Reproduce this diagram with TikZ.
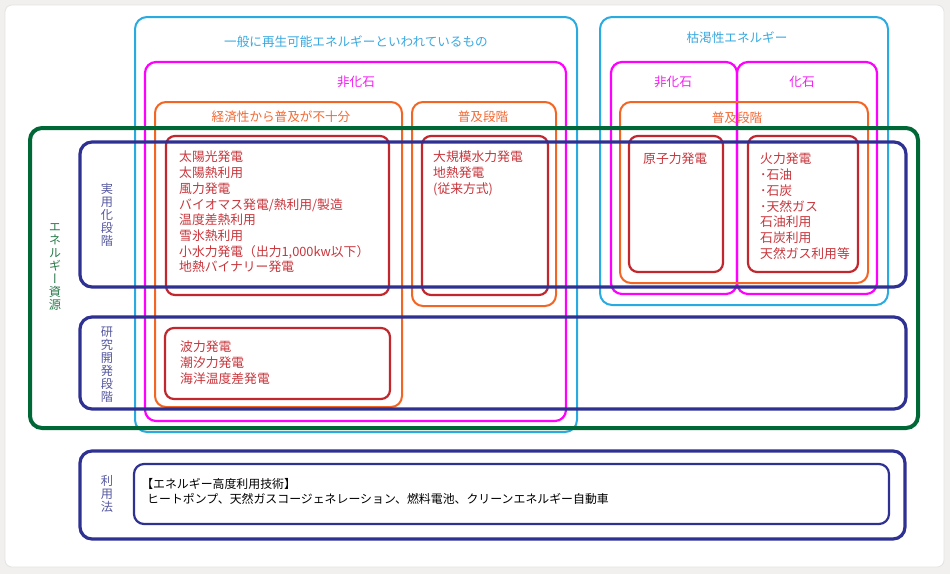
\documentclass[tikz,border=0pt]{standalone}
\usepackage{fontspec}
\setmainfont{Noto Sans CJK JP}
\newfontfamily\vfont[RawFeature=+vert]{Noto Sans CJK JP}
\definecolor{cbg}{HTML}{F1F0EE}
\definecolor{cpanel}{HTML}{E4E3E1}
\definecolor{cblue}{HTML}{29ABE2}
\definecolor{cmag}{HTML}{FF00FF}
\definecolor{corange}{HTML}{F26522}
\definecolor{cred}{HTML}{C1272D}
\definecolor{cgreen}{HTML}{006837}
\definecolor{cnavy}{HTML}{2E3192}
\definecolor{tblue}{HTML}{3AA9DF}
\definecolor{tmag}{HTML}{F21EF2}
\definecolor{tor}{HTML}{F26A35}
\definecolor{tred}{HTML}{C8363C}
\definecolor{tnavy}{HTML}{55589F}
\definecolor{tgreen}{HTML}{2B7A4B}
\begin{document}
\begin{tikzpicture}[x=1pt,y=-1pt,
  bluebox/.style={draw=cblue,line width=2pt,rounded corners=12pt},
  magbox/.style={draw=cmag,line width=2.2pt,rounded corners=11pt},
  orbox/.style={draw=corange,line width=2pt,rounded corners=11pt},
  redbox/.style={draw=cred,line width=2.2pt,rounded corners=9pt},
  greenbox/.style={draw=cgreen,line width=4pt,rounded corners=12pt},
  navybox/.style={draw=cnavy,line width=3.2pt,rounded corners=12pt},
  navythin/.style={draw=cnavy,line width=2.2pt,rounded corners=10pt},
  lbl/.style={inner sep=0pt,font=\fontsize{12.6}{14}\selectfont},
  itemtext/.style={inner sep=0pt,anchor=north west,align=left,text=tred,font=\fontsize{12.8}{15.7}\selectfont},
  vlbl/.style={inner sep=0pt,align=center,font=\vfont\fontsize{12.2}{13}\selectfont}]
\fill[cbg] (0,0) rectangle (950,574);
\draw[draw=cpanel,fill=white,line width=0.8pt,rounded corners=7pt] (5,5) rectangle (944,567);
\useasboundingbox (0,0) rectangle (950,574);
% layered boxes
\draw[bluebox] (135,17) rectangle (577,432);
\draw[bluebox] (600,17) rectangle (888,305);
\draw[magbox] (145,62) rectangle (566,421);
\draw[magbox] (611,62) rectangle (737,294);
\draw[magbox] (737,62) rectangle (877,294);
\draw[orbox] (155,102) rectangle (402,407);
\draw[orbox] (412,102) rectangle (556,306);
\draw[orbox] (620,102) rectangle (868,283);
\draw[redbox] (166,136) rectangle (389,295);
\draw[redbox] (422,136) rectangle (548,295);
\draw[redbox] (629,136) rectangle (723,272);
\draw[redbox] (748,136) rectangle (858,272);
\draw[redbox] (165,328) rectangle (390,399);
\draw[greenbox] (30,128) rectangle (918,428);
\draw[navybox] (80,142) rectangle (906,287);
\draw[navybox] (80,317) rectangle (906,409);
\draw[navybox] (80,451) rectangle (905,539);
\draw[navythin] (134,464) rectangle (889,524);
% labels
\node[lbl,text=tblue] (t1) at (356,42) {一般に再生可能エネルギーといわれているもの};
\node[lbl,text=tmag] (t2) at (356,82) {非化石};
\node[lbl,text=tor] (t3) at (281,117) {経済性から普及が不十分};
\node[lbl,text=tor] (t4) at (483,117) {普及段階};
\node[lbl,text=tblue] (t5) at (737,38) {枯渇性エネルギー};
\node[lbl,text=tmag] (t6) at (673,82) {非化石};
\node[lbl,text=tmag] (t7) at (802,82) {化石};
\node[lbl,text=tor] (t8) at (737,118) {普及段階};
% item texts
\node[itemtext] (i1) at (179,151) {太陽光発電\\太陽熱利用\\風力発電\\バイオマス発電/熱利用/製造\\温度差熱利用\\雪氷熱利用\\小水力発電（出力1,000kw以下）\\地熱バイナリー発電};
\node[itemtext] (i2) at (433,151) {大規模水力発電\\地熱発電\\(従来方式)};
\node[itemtext] (i3) at (643,153) {原子力発電};
\node[itemtext] (i4) at (760,153) {火力発電\\･石油\\･石炭\\･天然ガス\\石油利用\\石炭利用\\天然ガス利用等};
\node[itemtext] (i5) at (180,341) {波力発電\\潮汐力発電\\海洋温度差発電};
% vertical labels
\node[vlbl,text=tnavy] (v1) at (107,214.5) {実\\用\\化\\段\\階};
\node[vlbl,text=tnavy] (v2) at (107,364.5) {研\\究\\開\\発\\段\\階};
\node[vlbl,text=tgreen] (v3) at (55,267.5) {エ\\ネ\\ル\\ギ\\ー\\資\\源};
\node[vlbl,text=tnavy] (v4) at (107,494) {利\\用\\法};
% bottom text
\node[inner sep=0pt,anchor=north west,align=left,text=black,font=\fontsize{11.9}{15}\selectfont] (b1) at (147,478) {\hspace{-0.5em}【エネルギー高度利用技術】\\ヒートポンプ、天然ガスコージェネレーション、燃料電池、クリーンエネルギー自動車};
\end{tikzpicture}
\end{document}
